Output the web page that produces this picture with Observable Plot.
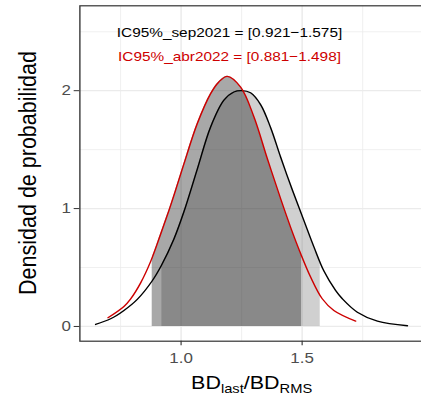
<!DOCTYPE html>
<html>
<head>
<meta charset="utf-8">
<script src="https://cdn.jsdelivr.net/npm/d3@7"></script>
<script src="https://cdn.jsdelivr.net/npm/@observablehq/plot@0.6"></script>
<style>
  html, body { margin: 0; padding: 0; background: white; }
  #c { width: 421px; height: 400px; overflow: hidden; position: relative; }
</style>
</head>
<body>
<div id="c"></div>
<script>
// Density curve, sep2021 (black)
const sepX = [0.647, 0.709, 0.764, 0.819, 0.881, 0.918, 0.970, 1.012, 1.067, 1.122, 1.177, 1.218, 1.250, 1.287, 1.329, 1.370, 1.411, 1.460, 1.507, 1.549, 1.590, 1.638, 1.666, 1.728, 1.811, 1.935];
const sepY = [0.017, 0.065, 0.136, 0.230, 0.388, 0.515, 0.740, 0.975, 1.335, 1.692, 1.919, 1.989, 2.001, 1.982, 1.880, 1.685, 1.437, 1.155, 0.900, 0.673, 0.470, 0.306, 0.235, 0.121, 0.045, 0.006];
// Density curve, abr2022 (red)
const abrX = [0.698, 0.764, 0.791, 0.833, 0.874, 0.915, 0.950, 0.977, 1.012, 1.067, 1.122, 1.156, 1.191, 1.246, 1.301, 1.356, 1.411, 1.452, 1.494, 1.535, 1.583, 1.631, 1.721];
const abrY = [0.074, 0.170, 0.232, 0.370, 0.550, 0.780, 0.985, 1.154, 1.381, 1.721, 1.975, 2.074, 2.122, 2.031, 1.777, 1.425, 1.084, 0.843, 0.617, 0.419, 0.235, 0.136, 0.045];
// 95% intervals
const sepCI = [0.921, 1.575];
const abrCI = [0.881, 1.498];
// Annotations
const annLabels = ["IC95%_sep2021 = [0.921\u22121.575]", "IC95%_abr2022 = [0.881\u22121.498]"];
const annX = [1.2, 1.2];
const annY = [2.49, 2.29];
const annColors = ["#000000", "#cd0000"];
// Ticks
const xMajor = [1.0, 1.5];
const xMinor = [0.75, 1.25, 1.75];
const yMajor = [0, 1, 2];
const yMinor = [0.5, 1.5, 2.5];
const xTitle = "BD";
const yTitle = "Densidad de probabilidad";

const sep = sepX.map((x, i) => ({x, y: sepY[i]}));
const abr = abrX.map((x, i) => ({x, y: abrY[i]}));
const ann = annLabels.map((t, i) => ({x: annX[i], y: annY[i], t, c: annColors[i]}));

const S = 1.13; // horizontal stretch of the reference rendering
const font = "'Liberation Sans', Arial, Helvetica, sans-serif";
const CURVE = "catmull-rom";

const plot = Plot.plot({
  width: 380,
  height: 400,
  marginLeft: 70.2,
  marginRight: 3,
  marginTop: 5.3,
  marginBottom: 59.3,
  style: {fontFamily: font, fontSize: "15px", color: "#4d4d4d", background: "white", overflow: "visible"},
  x: {domain: [0.582, 2.014], label: null},
  y: {domain: [-0.125, 2.72], label: null},
  marks: [
    Plot.gridX(xMinor, {stroke: "#ebebeb", strokeOpacity: 1, strokeWidth: 0.7}),
    Plot.gridY(yMinor, {stroke: "#ebebeb", strokeOpacity: 1, strokeWidth: 0.7}),
    Plot.gridX(xMajor, {stroke: "#ebebeb", strokeOpacity: 1, strokeWidth: 1.3}),
    Plot.gridY(yMajor, {stroke: "#ebebeb", strokeOpacity: 1, strokeWidth: 1.3}),
    Plot.areaY(sep, {x: "x", y: "y", fill: "#808080", fillOpacity: 0.37, curve: CURVE}),
    Plot.areaY(abr, {x: "x", y: "y", fill: "#000000", fillOpacity: 0.34, curve: CURVE}),
    Plot.line(sep, {x: "x", y: "y", stroke: "#000000", strokeWidth: 1.3, curve: CURVE}),
    Plot.line(abr, {x: "x", y: "y", stroke: "#cd0000", strokeWidth: 1.3, curve: CURVE}),
    Plot.text(ann, {x: "x", y: "y", text: "t", fill: "c", fontSize: 13.6}),
    Plot.frame({stroke: "#333333", strokeWidth: 1.2}),
    Plot.axisX({ticks: xMajor, tickFormat: d => d.toFixed(1), tickSize: 4.5, tickPadding: 7, stroke: "#333333", fontSize: 15, label: null}),
    Plot.axisY({ticks: yMajor, tickFormat: d => String(d), tickSize: 5, tickPadding: 3, stroke: "#333333", fontSize: 15, label: null})
  ]
});

// Clip the shaded areas to their 95% intervals, through the x scale
const xs = plot.scale("x");
const ns = "http://www.w3.org/2000/svg";
const defs = document.createElementNS(ns, "defs");
plot.insertBefore(defs, plot.firstChild);
const areaGroups = plot.querySelectorAll('g[aria-label="area"]');
[sepCI, abrCI].forEach((ci, k) => {
  const cp = document.createElementNS(ns, "clipPath");
  cp.setAttribute("id", "clip-ci-" + k);
  const r = document.createElementNS(ns, "rect");
  const x0 = xs.apply(ci[0]), x1 = xs.apply(ci[1]);
  r.setAttribute("x", x0);
  r.setAttribute("width", x1 - x0);
  r.setAttribute("y", 0);
  r.setAttribute("height", 400);
  cp.appendChild(r);
  defs.appendChild(cp);
  if (areaGroups[k]) areaGroups[k].setAttribute("clip-path", `url(#clip-ci-${k})`);
});

// Axis titles
const svg = d3.select(plot);
svg.append("text")
  .attr("transform", "translate(32.1,173) rotate(-90)")
  .attr("text-anchor", "middle")
  .attr("fill", "#000000")
  .style("font-size", "21.5px")
  .style("font-family", font)
  .text(yTitle);
const xt = svg.append("text")
  .attr("x", 222.7)
  .attr("y", 389.3)
  .attr("text-anchor", "middle")
  .attr("fill", "#000000")
  .style("font-size", "19px")
  .style("font-family", font);
xt.append("tspan").text(xTitle);
xt.append("tspan").attr("dy", 4).style("font-size", "13px").text("last");
xt.append("tspan").attr("dy", -4).text("/" + xTitle);
xt.append("tspan").attr("dy", 4).style("font-size", "13px").text("RMS");

plot.style.transform = `scale(${S},1)`;
plot.style.transformOrigin = "0 0";
document.getElementById("c").appendChild(plot);
</script>
</body>
</html>
